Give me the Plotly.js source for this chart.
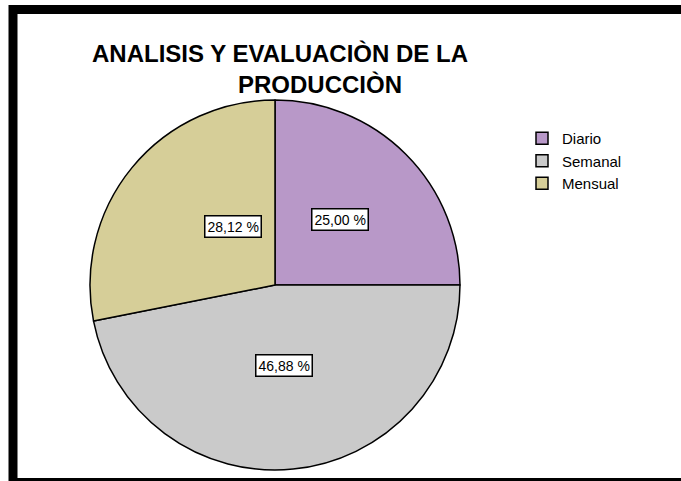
<!DOCTYPE html>
<html>
<head>
<meta charset="utf-8">
<script src="https://cdn.plot.ly/plotly-3.0.1.min.js"></script>
<style>html,body{margin:0;padding:0;background:#fff}#chart{width:681px;height:481px}</style>
</head>
<body>
<div id="chart"></div>
<script>
// Data
var categories = ['Diario', 'Semanal', 'Mensual'];
var percentages = [25.00, 46.88, 28.12];
var sliceColors = ['#B898C8', '#CACACA', '#D6CE98'];
var titleLine1 = 'ANALISIS Y EVALUACIÒN DE LA';
var titleLine2 = 'PRODUCCIÒN';

var W = 681, H = 481;
// pie placement (pixels)
var pieLeft = 90, pieRight = 460, pieTop = 100, pieBottom = 470;
var dom = {x: [pieLeft / W, pieRight / W], y: [1 - pieBottom / H, 1 - pieTop / H]};

function fmt(v) { return v.toFixed(2).replace('.', ',') + ' %'; }

// label boxes at half radius along each slice's mid-angle
var cx = (dom.x[0] + dom.x[1]) / 2, cy = (dom.y[0] + dom.y[1]) / 2;
var rPx = Math.min(pieRight - pieLeft, pieBottom - pieTop) / 2;
var rx = rPx / W, ry = rPx / H;
var total = percentages.reduce(function (a, b) { return a + b; }, 0);
var cum = 0;
var annotations = percentages.map(function (v) {
  var mid = (cum + v / 2) / total * 2 * Math.PI;
  cum += v;
  return {
    xref: 'paper', yref: 'paper',
    x: cx + 0.5 * rx * Math.sin(mid),
    y: cy + 0.5 * ry * Math.cos(mid),
    text: fmt(v), showarrow: false,
    font: {family: 'Liberation Sans, Arial, sans-serif', size: 14, color: '#000'},
    bgcolor: '#ffffff', bordercolor: '#000000', borderwidth: 1.5, borderpad: 2
  };
});

var nb = '';
for (var i = 0; i < 12; i++) nb += '&nbsp;';

var trace = {
  type: 'pie',
  labels: categories,
  values: percentages,
  sort: false,
  direction: 'clockwise',
  rotation: 0,
  textinfo: 'none',
  hoverinfo: 'label+percent',
  domain: dom,
  marker: {colors: sliceColors, line: {color: '#000000', width: 1.5}}
};

var layout = {
  width: W, height: H,
  margin: {l: 0, r: 0, t: 0, b: 0},
  paper_bgcolor: '#ffffff',
  title: {
    text: '<b>' + titleLine1 + '<br>' + nb + titleLine2 + '</b>',
    x: 280 / W, xanchor: 'center', xref: 'paper',
    y: 1 - 62 / H, yanchor: 'top', yref: 'paper',
    font: {family: 'Liberation Sans, Arial, sans-serif', size: 24, color: '#000'}
  },
  showlegend: true,
  legend: {
    x: 522 / W, xanchor: 'left', y: 1 - 122 / H, yanchor: 'top',
    font: {family: 'Liberation Sans, Arial, sans-serif', size: 15, color: '#000'},
    bgcolor: 'rgba(0,0,0,0)', traceorder: 'normal'
  },
  annotations: annotations,
  shapes: [{
    type: 'rect', xref: 'paper', yref: 'paper',
    x0: 13 / W, x1: 1 + 20 / W, y0: 1 - 9.5 / H, y1: 1 - 482.5 / H,
    line: {color: '#000000', width: 9}, fillcolor: 'rgba(0,0,0,0)'
  }]
};

Plotly.newPlot('chart', [trace], layout, {displayModeBar: false, staticPlot: true});
</script>
</body>
</html>
